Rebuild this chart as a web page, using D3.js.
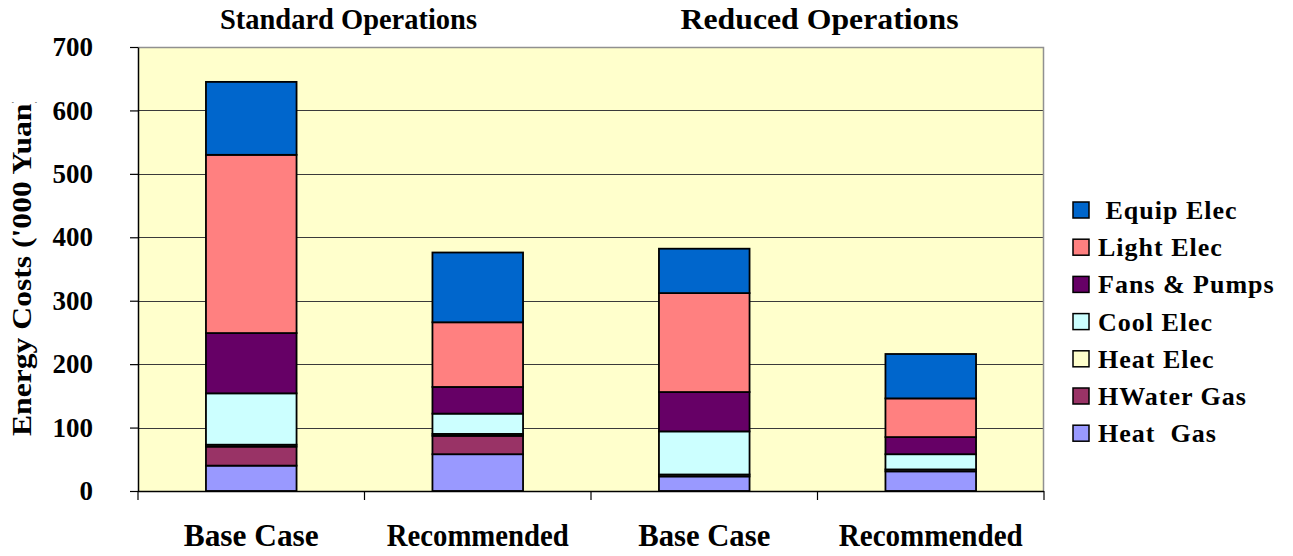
<!DOCTYPE html>
<html>
<head>
<meta charset="utf-8">
<script src="https://cdn.jsdelivr.net/npm/d3@7"></script>
<style>
  html, body { margin: 0; padding: 0; background: #ffffff; }
  svg { display: block; }
  text { font-family: "Liberation Serif", "Times New Roman", serif; font-weight: bold; fill: #000; }
</style>
</head>
<body>
<svg id="chart" width="1293" height="556"></svg>
<script>
// ---- data ----
const categories = ["Base Case", "Recommended", "Base Case", "Recommended"];
const groupTitles = ["Standard Operations", "Reduced Operations"];
const seriesNames = ["Heat  Gas", "HWater Gas", "Heat Elec", "Cool Elec", "Fans & Pumps", "Light Elec", " Equip Elec"];
const heatGas   = [40, 58, 23, 31];
const hwaterGas = [30, 29, 0, 0];
const heatElec  = [3, 3, 3, 3];
const coolElec  = [81, 32, 68, 24];
const fansPumps = [95, 42, 62, 27];
const lightElec = [281, 102, 156, 61];
const equipElec = [115, 110, 70, 70];
const yTicks = [0, 100, 200, 300, 400, 500, 600, 700];
const yTitle = "Energy Costs ('000 Yuan)";

const seriesValues = [heatGas, hwaterGas, heatElec, coolElec, fansPumps, lightElec, equipElec];
const colors = ["#9999FF", "#993366", "#FFFFCC", "#CCFFFF", "#660066", "#FF8080", "#0066CC"];

// ---- layout ----
const svg = d3.select("#chart");
const plot = { left: 138, right: 1044, top: 47, bottom: 491 };
const FONT = "'Liberation Serif', 'Times New Roman', serif";

const x = d3.scaleBand()
  .domain(d3.range(categories.length))
  .range([plot.left, plot.right])
  .paddingInner(0.6)
  .paddingOuter(0.3);
const y = d3.scaleLinear().domain([0, 700]).range([plot.bottom, plot.top]);

// table for stacking
const table = categories.map((c, i) => {
  const row = { idx: i };
  seriesNames.forEach((s, k) => row[s] = seriesValues[k][i]);
  return row;
});
const stacked = d3.stack().keys(seriesNames)(table);

// plot background
svg.append("rect")
  .attr("x", plot.left).attr("y", plot.top)
  .attr("width", plot.right - plot.left).attr("height", plot.bottom - plot.top)
  .attr("fill", "#FFFFCC");

// gridlines
svg.append("g").selectAll("line")
  .data(yTicks.filter(t => t > 0 && t < 700))
  .join("line")
  .attr("x1", plot.left).attr("x2", plot.right)
  .attr("y1", d => Math.round(y(d)) + 0.5).attr("y2", d => Math.round(y(d)) + 0.5)
  .attr("stroke", "#3a3a3a").attr("stroke-width", 1);

// top and right border (gray)
svg.append("path")
  .attr("d", `M${plot.left},${plot.top + 0.5}H${plot.right - 0.5}V${plot.bottom}`)
  .attr("fill", "none").attr("stroke", "#909090").attr("stroke-width", 1.5);

// bars
svg.append("g").selectAll("g")
  .data(stacked)
  .join("g")
  .attr("fill", (d, k) => colors[k])
  .selectAll("rect")
  .data(d => d.filter(s => s[1] - s[0] > 0))
  .join("rect")
  .attr("x", d => x(d.data.idx))
  .attr("width", x.bandwidth())
  .attr("y", d => y(d[1]))
  .attr("height", d => y(d[0]) - y(d[1]))
  .attr("stroke", "#000").attr("stroke-width", 1.8);

// y axis
const yAxis = svg.append("g")
  .attr("transform", `translate(${plot.left},0)`)
  .call(d3.axisLeft(y).tickValues(yTicks).tickSize(8).tickPadding(37).tickSizeOuter(0));
yAxis.select(".domain").attr("stroke", "#000").attr("stroke-width", 1.5);
yAxis.selectAll(".tick line").attr("stroke", "#000").attr("stroke-width", 1.2);
yAxis.selectAll(".tick text")
  .attr("font-family", FONT).attr("font-weight", "bold")
  .attr("font-size", 27).attr("fill", "#000")
  .attr("textLength", d => String(d).length * 13.5)
  .attr("lengthAdjust", "spacingAndGlyphs");

// x axis line and category boundary ticks
svg.append("line")
  .attr("x1", plot.left).attr("x2", plot.right)
  .attr("y1", plot.bottom + 0.5).attr("y2", plot.bottom + 0.5)
  .attr("stroke", "#000").attr("stroke-width", 1.5);
const step = x.step();
svg.append("g").selectAll("line")
  .data(d3.range(categories.length + 1))
  .join("line")
  .attr("x1", i => plot.left + i * step).attr("x2", i => plot.left + i * step)
  .attr("y1", plot.bottom).attr("y2", plot.bottom + 9)
  .attr("stroke", "#000").attr("stroke-width", 1.2);

// x labels
const xLabelLengths = [135, 182, 132, 184];
svg.append("g").selectAll("text")
  .data(categories)
  .join("text")
  .attr("x", (d, i) => x(i) + x.bandwidth() / 2)
  .attr("y", 546)
  .attr("text-anchor", "middle")
  .attr("font-size", 31)
  .attr("textLength", (d, i) => xLabelLengths[i])
  .attr("lengthAdjust", "spacingAndGlyphs")
  .text(d => d);

// group titles
const titleOffsets = [-16, 2];
const titleLengths = [257, 278];
svg.append("g").selectAll("text")
  .data(groupTitles)
  .join("text")
  .attr("x", (d, g) => (x(2 * g) + x(2 * g + 1) + x.bandwidth()) / 2 + titleOffsets[g])
  .attr("y", 29)
  .attr("text-anchor", "middle")
  .attr("font-size", 29)
  .attr("textLength", (d, g) => titleLengths[g])
  .attr("lengthAdjust", "spacingAndGlyphs")
  .text(d => d);

// y title (clipped at top like the original)
svg.append("clipPath").attr("id", "ytclip")
  .append("rect").attr("x", 0).attr("y", 102).attr("width", 60).attr("height", 400);
svg.append("g").attr("clip-path", "url(#ytclip)")
  .append("text")
  .attr("transform", "translate(31,436) rotate(-90)")
  .attr("text-anchor", "start")
  .attr("font-size", 28)
  .attr("textLength", 343)
  .attr("lengthAdjust", "spacingAndGlyphs")
  .text(yTitle);

// legend
const legendOrder = d3.range(seriesNames.length).reverse();
const lg = svg.append("g").selectAll("g")
  .data(legendOrder)
  .join("g")
  .attr("transform", (k, i) => `translate(1073,${210 + i * 37.2})`);
lg.append("rect")
  .attr("x", 0).attr("y", -8).attr("width", 16).attr("height", 16)
  .attr("fill", k => colors[k]).attr("stroke", "#000").attr("stroke-width", 1.5);
lg.append("text")
  .attr("x", 25).attr("y", 9)
  .attr("font-size", 26)
  .attr("letter-spacing", 1)
  .style("white-space", "pre")
  .text(k => seriesNames[k]);
</script>
</body>
</html>
